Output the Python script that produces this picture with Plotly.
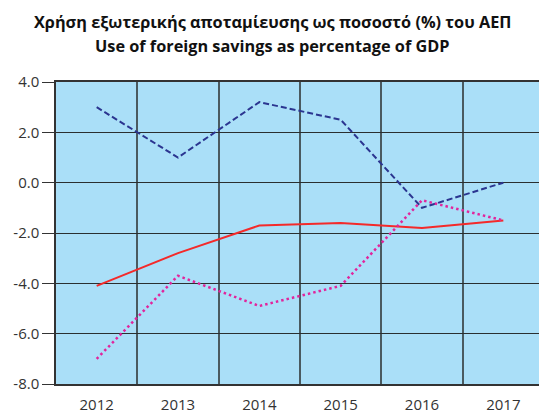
import plotly.graph_objects as go

years = ["2012", "2013", "2014", "2015", "2016", "2017"]
series_a = [3.0, 1.0, 3.2, 2.5, -1.0, 0.0]       # dark blue dashed
series_b = [-4.1, -2.8, -1.7, -1.6, -1.8, -1.5]  # red solid
series_c = [-7.0, -3.7, -4.9, -4.1, -0.7, -1.5]  # magenta dotted
y_ticks = [4, 2, 0, -2, -4, -6, -8]
y_tick_text = ["%.1f" % v for v in y_ticks]
title_gr = "Χρήση εξωτερικής αποταμίευσης ως ποσοστό (%) του ΑΕΠ"
title_en = "Use of foreign savings as percentage of GDP"

fig = go.Figure()
fig.add_trace(go.Scatter(x=years, y=series_a, mode="lines",
                         line=dict(color="#2B3590", width=2, dash="6px,3px")))
fig.add_trace(go.Scatter(x=years, y=series_b, mode="lines",
                         line=dict(color="#F42A2A", width=2)))
fig.add_trace(go.Scatter(x=years, y=series_c, mode="lines",
                         line=dict(color="#E2249C", width=2.5, dash="2.5px,3px")))

fig.update_layout(
    width=539, height=410,
    margin=dict(l=48, r=1, t=74, b=34),
    paper_bgcolor="white",
    plot_bgcolor="#AADFF8",
    showlegend=False,
    font=dict(family="Open Sans", color="#333333"),
    annotations=[
        dict(text="<b>%s</b>" % title_gr, xref="paper", yref="paper",
             x=0.443, y=1.199, xanchor="center", yanchor="middle", showarrow=False,
             font=dict(family="Open Sans", size=16.3, color="#111111")),
        dict(text="<b>%s</b>" % title_en, xref="paper", yref="paper",
             x=0.443, y=1.119, xanchor="center", yanchor="middle", showarrow=False,
             font=dict(family="Open Sans", size=16.3, color="#111111")),
    ],
)
fig.update_xaxes(
    type="category", tickson="boundaries", range=[-0.5, 5.5],
    showgrid=True, gridcolor="#4A5A60", gridwidth=1.5,
    showline=True, linecolor="#333333", linewidth=1.5, mirror=True,
    ticks="", ticklabelstandoff=6, tickfont=dict(size=15, color="#333333"),
)
fig.update_yaxes(
    range=[-8, 4], tickvals=y_ticks, ticktext=y_tick_text,
    showgrid=True, gridcolor="#2A2F30", gridwidth=1.3,
    showline=True, linecolor="#333333", linewidth=1.5, mirror=True,
    ticks="outside", ticklen=12, tickcolor="#333333", tickwidth=1.3,
    tickfont=dict(size=15, color="#333333"), zeroline=False,
)
fig.write_html("out.html")
